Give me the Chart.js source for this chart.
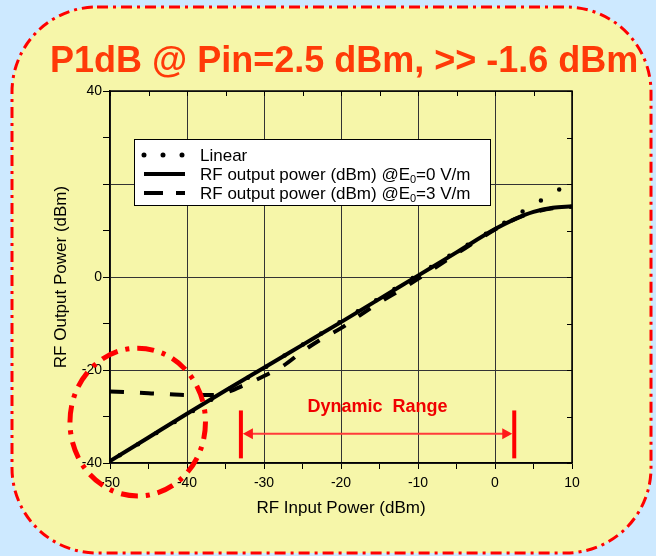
<!DOCTYPE html>
<html>
<head>
<meta charset="utf-8">
<script src="https://cdn.jsdelivr.net/npm/chart.js@4.4.0/dist/chart.umd.min.js"></script>
<style>
  html, body { margin: 0; padding: 0; background: #cde9ff; }
  #wrap { width: 656px; height: 556px; }
</style>
</head>
<body>
<div id="wrap"><canvas id="p1dbChart" width="656" height="556"></canvas></div>
<script>
document.addEventListener("DOMContentLoaded", () => {
  const ctx = document.getElementById("p1dbChart").getContext("2d");

  // Title of the slide
  const titleText = "P1dB @ Pin=2.5 dBm, >> -1.6 dBm";

  // Ideal linear response (two end points)
  const pinLinear = [-50, 10];
  const poutLinear = [-39.6, 20.5];

  // Measured output power, E0 = 0 V/m
  const pinE0 = [-50, -45, -40, -35, -30, -25, -20, -15, -10, -5, 0, 2.5, 5, 7.5, 10];
  const poutE0 = [-39.6, -34.5, -29.4, -24.4, -19.5, -14.6, -9.7, -4.7, 0.3, 5.3, 10.3, 12.4, 14.0, 14.9, 15.2];

  // Measured output power, E0 = 3 V/m
  const pinE3 = [-50, -47.5, -45, -42.5, -40, -37.5, -36, -35, -32.5, -30, -27.5, -25, -22.5, -20, -17.5, -15, -12.5, -10, -5, 0, 2.5, 5, 7.5, 10];
  const poutE3 = [-24.6, -24.8, -25.0, -25.2, -25.4, -25.4, -25.3, -24.9, -23.2, -21.3, -19.1, -16.0, -13.3, -11.0, -8.2, -5.5, -3.0, -0.4, 5.0, 10.2, 12.4, 13.9, 14.8, 15.1];

  // Tick labels that are printed on the axes
  const xLabelled = [-50, -40, -30, -20, -10, 0, 10];
  const yLabelled = [-40, -20, 0, 40];

  // Dynamic range marker (data units)
  const drFrom = -33, drTo = 2.5, drLevel = -33.7, drBarTop = -28.7, drBarBottom = -39;
  // Dash-dot circle around the noise floor (data units)
  const ringCenter = [-46.4, -31.2], ringRadius = [8.8, 15.9];

  const toPoints = (xs, ys) => xs.map((x, i) => ({ x, y: ys[i] }));

  Chart.defaults.font.family = '"Liberation Sans", Arial, sans-serif';
  Chart.defaults.color = "#000";

  // slide background, rounded frame and title
  const backdrop = {
    id: "backdrop",
    beforeDraw(chart) {
      const c = chart.ctx;
      c.save();
      c.fillStyle = "#cde9ff";
      c.fillRect(0, 0, chart.width, chart.height);
      const x0 = 12, y0 = 7, x1 = 651, y1 = 553, r = 85;
      c.beginPath();
      c.moveTo(x0 + r, y0);
      c.lineTo(x1 - r, y0);
      c.arcTo(x1, y0, x1, y0 + r, r);
      c.lineTo(x1, y1 - r);
      c.arcTo(x1, y1, x1 - r, y1, r);
      c.lineTo(x0 + r, y1);
      c.arcTo(x0, y1, x0, y1 - r, r);
      c.lineTo(x0, y0 + r);
      c.arcTo(x0, y0, x0 + r, y0, r);
      c.closePath();
      c.fillStyle = "#f6f6a9";
      c.fill();
      c.setLineDash([11, 5, 3, 5]);
      c.lineWidth = 3;
      c.strokeStyle = "#ff0000";
      c.stroke();
      c.setLineDash([]);
      c.font = 'bold 36px "Liberation Sans", Arial, sans-serif';
      c.fillStyle = "#ff3a08";
      c.textBaseline = "alphabetic";
      c.fillText(titleText, 50, 72);
      c.restore();
    }
  };

  function drawLabel(c, text, x, y) {
    const parts = text.split("\u2080");
    c.font = '17px "Liberation Sans", Arial, sans-serif';
    c.fillText(parts[0], x, y);
    if (parts.length > 1) {
      let px = x + c.measureText(parts[0]).width;
      c.font = '11px "Liberation Sans", Arial, sans-serif';
      c.fillText("0", px, y + 5);
      px += c.measureText("0").width;
      c.font = '17px "Liberation Sans", Arial, sans-serif';
      c.fillText(parts[1], px, y);
    }
  }

  const legendDash = [[0, 19], [], [19, 13]];

  // frame ticks, legend and the red annotations
  const notes = {
    id: "notes",
    afterDraw(chart) {
      const c = chart.ctx;
      const a = chart.chartArea;
      const { x, y } = chart.scales;
      c.save();

      c.strokeStyle = "#000";
      c.lineWidth = 1.5;
      c.beginPath();
      c.moveTo(a.left, a.top);
      c.lineTo(a.right, a.top);
      c.lineTo(a.right, a.bottom);
      c.stroke();
      c.lineWidth = 1;
      c.beginPath();
      x.ticks.forEach(t => {
        const px = Math.round(x.getPixelForValue(t.value)) + 0.5;
        c.moveTo(px, a.top);
        c.lineTo(px, a.top + 5);
      });
      y.ticks.forEach(t => {
        const py = Math.round(y.getPixelForValue(t.value)) + 0.5;
        c.moveTo(a.right, py);
        c.lineTo(a.right - 5, py);
      });
      c.stroke();

      // legend
      const lx = a.left + 24, ly = a.top + 48;
      c.fillStyle = "#fff";
      c.fillRect(lx, ly, 356, 66);
      c.strokeStyle = "#000";
      c.lineWidth = 1;
      c.strokeRect(lx + 0.5, ly + 0.5, 356, 66);
      c.textBaseline = "middle";
      chart.data.datasets.forEach((ds, i) => {
        const rowY = ly + 16 + i * 19;
        c.beginPath();
        c.setLineDash(legendDash[i]);
        c.lineCap = i === 0 ? "round" : "butt";
        c.lineWidth = i === 0 ? 5 : 4;
        c.strokeStyle = ds.borderColor;
        c.moveTo(lx + 10, rowY);
        c.lineTo(lx + 51, rowY);
        c.stroke();
        c.setLineDash([]);
        c.fillStyle = "#000";
        drawLabel(c, ds.label, lx + 66, rowY + 1);
      });

      // dynamic range
      const xl = x.getPixelForValue(drFrom), xr = x.getPixelForValue(drTo);
      const ya = y.getPixelForValue(drLevel);
      const yt = y.getPixelForValue(drBarTop), yb = y.getPixelForValue(drBarBottom);
      c.fillStyle = "#ff0000";
      c.fillRect(xl - 2, yt, 4, yb - yt);
      c.fillRect(xr - 2, yt, 4, yb - yt);
      c.strokeStyle = "#ff3b3b";
      c.lineWidth = 2;
      c.beginPath();
      c.moveTo(xl + 8, ya);
      c.lineTo(xr - 8, ya);
      c.stroke();
      c.fillStyle = "#ff1a1a";
      c.beginPath();
      c.moveTo(xl + 2, ya);
      c.lineTo(xl + 12, ya - 5.5);
      c.lineTo(xl + 12, ya + 5.5);
      c.closePath();
      c.moveTo(xr - 2, ya);
      c.lineTo(xr - 12, ya - 5.5);
      c.lineTo(xr - 12, ya + 5.5);
      c.closePath();
      c.fill();
      c.font = 'bold 18px "Liberation Sans", Arial, sans-serif';
      c.fillStyle = "#f00000";
      c.textAlign = "center";
      c.fillText("Dynamic  Range", (xl + xr) / 2, ya - 27);

      // dash-dot ring
      const cx = x.getPixelForValue(ringCenter[0]), cy = y.getPixelForValue(ringCenter[1]);
      const rx = x.getPixelForValue(ringCenter[0] + ringRadius[0]) - cx;
      const ry = cy - y.getPixelForValue(ringCenter[1] + ringRadius[1]);
      c.beginPath();
      c.ellipse(cx, cy, rx, ry, 0, 0, Math.PI * 2);
      c.setLineDash([17, 8, 4, 8]);
      c.lineWidth = 5;
      c.strokeStyle = "#ff0000";
      c.stroke();
      c.restore();
    }
  };

  const config = {
    type: "line",
    data: {
      datasets: [
        {
          label: "Linear",
          data: toPoints(pinLinear, poutLinear),
          borderColor: "#000",
          borderWidth: 4.5,
          borderDash: [0, 21.4],
          borderDashOffset: 10,
          borderCapStyle: "round",
          pointRadius: 0,
          fill: false,
          order: 2,
        },
        {
          label: "RF output power (dBm) @E\u2080=0 V/m",
          data: toPoints(pinE0, poutE0),
          borderColor: "#000",
          borderWidth: 4,
          cubicInterpolationMode: "monotone",
          pointRadius: 0,
          fill: false,
          order: 0,
        },
        {
          label: "RF output power (dBm) @E\u2080=3 V/m",
          data: toPoints(pinE3, poutE3),
          borderColor: "#000",
          borderWidth: 4,
          borderDash: [14, 16],
          cubicInterpolationMode: "monotone",
          pointRadius: 0,
          fill: false,
          order: 1,
        },
      ],
    },
    options: {
      responsive: false,
      animation: false,
      devicePixelRatio: 1,
      layout: { padding: { left: 0, right: 84, top: 91, bottom: 0 } },
      plugins: {
        legend: { display: false },
        tooltip: { enabled: false },
      },
      scales: {
        x: {
          type: "linear",
          min: -50,
          max: 10,
          afterFit: scale => { scale.height = 93; },
          ticks: {
            stepSize: 5,
            autoSkip: false,
            maxRotation: 0,
            padding: 6,
            font: { size: 14 },
            callback: v => (xLabelled.includes(v) ? v : ""),
          },
          grid: {
            color: c => (xLabelled.includes(c.tick.value) ? "#333" : "transparent"),
            tickColor: "#000",
            tickLength: 6,
          },
          border: { display: true, color: "#000", width: 1.5 },
          title: {
            display: true,
            text: "RF Input Power (dBm)",
            font: { size: 17 },
            padding: { bottom: 37 },
          },
        },
        y: {
          min: -40,
          max: 40,
          afterFit: scale => { scale.width = 110; },
          ticks: {
            stepSize: 10,
            padding: 1,
            font: { size: 14 },
            callback: v => (yLabelled.includes(v) ? v : ""),
          },
          grid: {
            color: c => (c.tick.value % 20 === 0 ? "#333" : "transparent"),
            tickColor: "#000",
            tickLength: 7,
          },
          border: { display: true, color: "#000", width: 1.5 },
          title: {
            display: true,
            text: "RF Output Power (dBm)",
            font: { size: 17 },
            padding: { top: 51 },
          },
        },
      },
    },
    plugins: [backdrop, notes],
  };

  new Chart(ctx, config);
});
</script>
</body>
</html>
